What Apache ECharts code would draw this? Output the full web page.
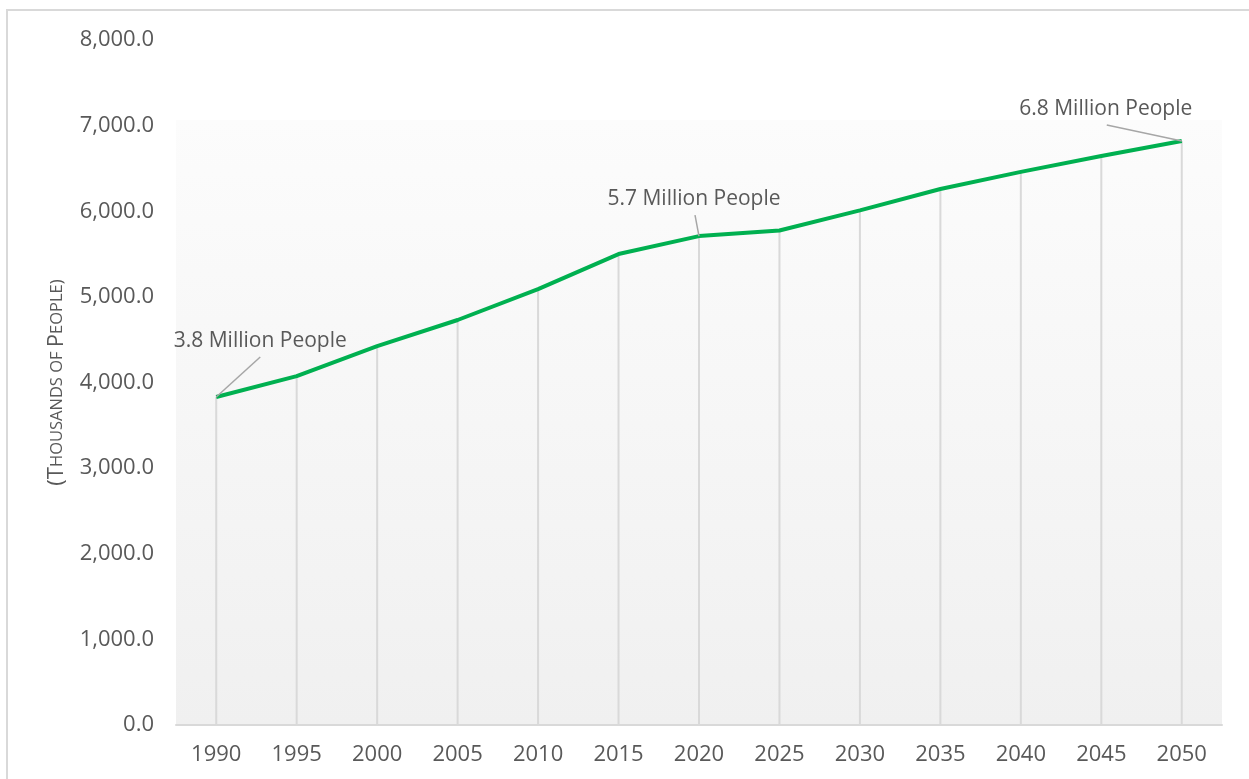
<!DOCTYPE html>
<html>
<head>
<meta charset="utf-8">
<title>Population projection</title>
<script src="https://cdn.jsdelivr.net/npm/echarts@6/dist/echarts.min.js"></script>
<style>
  html, body { margin: 0; padding: 0; background: #fff; }
  #chart { width: 1249px; height: 779px; }
</style>
</head>
<body>
<div id="chart"></div>
<script>
// data (thousands of people)
const years = ['1990', '1995', '2000', '2005', '2010', '2015', '2020', '2025', '2030', '2035', '2040', '2045', '2050'];
const population = [3830, 4075, 4425, 4730, 5090, 5500, 5710, 5775, 6010, 6260, 6460, 6645, 6820];
const calloutIdx = [0, 6, 12];
const calloutText = ['3.8 Million People', '5.7 Million People', '6.8 Million People'];
const yTicks = { min: 0, max: 8000, interval: 1000 };

const txt = '#595959';
const font = 'Open Sans';

// where each callout sits relative to its point: leader end and text centre (px)
const calloutPos = [
  { line: [44, -40], text: [44, -56] },
  { line: [-4, -21], text: [-5, -37] },
  { line: [-75, -16], text: [-76, -32] }
];

const chart = echarts.init(document.getElementById('chart'));

const option = {
  animation: false,
  textStyle: { fontFamily: font },
  graphic: [{
    type: 'rect',
    silent: true,
    shape: { x: 7, y: 10, width: 1400, height: 1000 },
    style: { fill: 'none', stroke: '#d9d9d9', lineWidth: 2 }
  }],
  grid: {
    left: 176, right: 27, top: 40, bottom: 54,
    show: true,
    borderWidth: 0,
    backgroundColor: {
      type: 'linear', x: 0, y: 0, x2: 0, y2: 1,
      colorStops: [
        { offset: 0, color: '#ffffff' },
        { offset: 0.116, color: '#ffffff' },
        { offset: 0.117, color: '#fcfcfc' },
        { offset: 1, color: '#f0f0f0' }
      ]
    }
  },
  xAxis: {
    type: 'category',
    data: years,
    boundaryGap: true,
    axisLine: { lineStyle: { color: '#d9d9d9', width: 2 } },
    axisTick: { show: false },
    axisLabel: { color: txt, fontSize: 22, fontFamily: font, margin: 19 }
  },
  yAxis: {
    type: 'value',
    min: yTicks.min,
    max: yTicks.max,
    interval: yTicks.interval,
    splitLine: { show: false },
    axisLine: { show: false },
    axisTick: { show: false },
    axisLabel: {
      color: txt, fontSize: 22, fontFamily: font, margin: 22,
      formatter: v => v.toLocaleString('en-US', { minimumFractionDigits: 1, maximumFractionDigits: 1 })
    },
    name: '{b|(T}{s|HOUSANDS OF }{b|P}{s|EOPLE)}',
    nameLocation: 'middle',
    nameGap: 108,
    nameRotate: 90,
    nameTextStyle: {
      rich: {
        b: { fontSize: 22, color: txt, fontFamily: font },
        s: { fontSize: 16.5, color: txt, fontFamily: font }
      }
    }
  },
  series: [
    {
      // vertical drop lines from each point to the axis
      type: 'bar',
      data: population,
      barWidth: 2,
      itemStyle: { color: '#d9d9d9' },
      silent: true,
      z: 1
    },
    {
      type: 'line',
      data: population,
      showSymbol: false,
      lineStyle: { color: '#00B050', width: 4 },
      itemStyle: { color: '#00B050' },
      z: 3
    },
    {
      // callouts with leader lines
      type: 'custom',
      z: 4,
      silent: true,
      data: calloutIdx.map(i => [i, population[i]]),
      renderItem: (params, api) => {
        const pt = api.coord([api.value(0), api.value(1)]);
        const c = calloutPos[params.dataIndex];
        return {
          type: 'group',
          children: [
            {
              type: 'line',
              shape: { x1: pt[0], y1: pt[1], x2: pt[0] + c.line[0], y2: pt[1] + c.line[1] },
              style: { stroke: '#a6a6a6', lineWidth: 1.5 }
            },
            {
              type: 'text',
              x: pt[0] + c.text[0],
              y: pt[1] + c.text[1],
              style: {
                text: calloutText[params.dataIndex],
                fill: txt,
                font: '21px "Open Sans"',
                align: 'center',
                verticalAlign: 'middle'
              }
            }
          ]
        };
      }
    }
  ]
};

chart.setOption(option);
</script>
</body>
</html>
